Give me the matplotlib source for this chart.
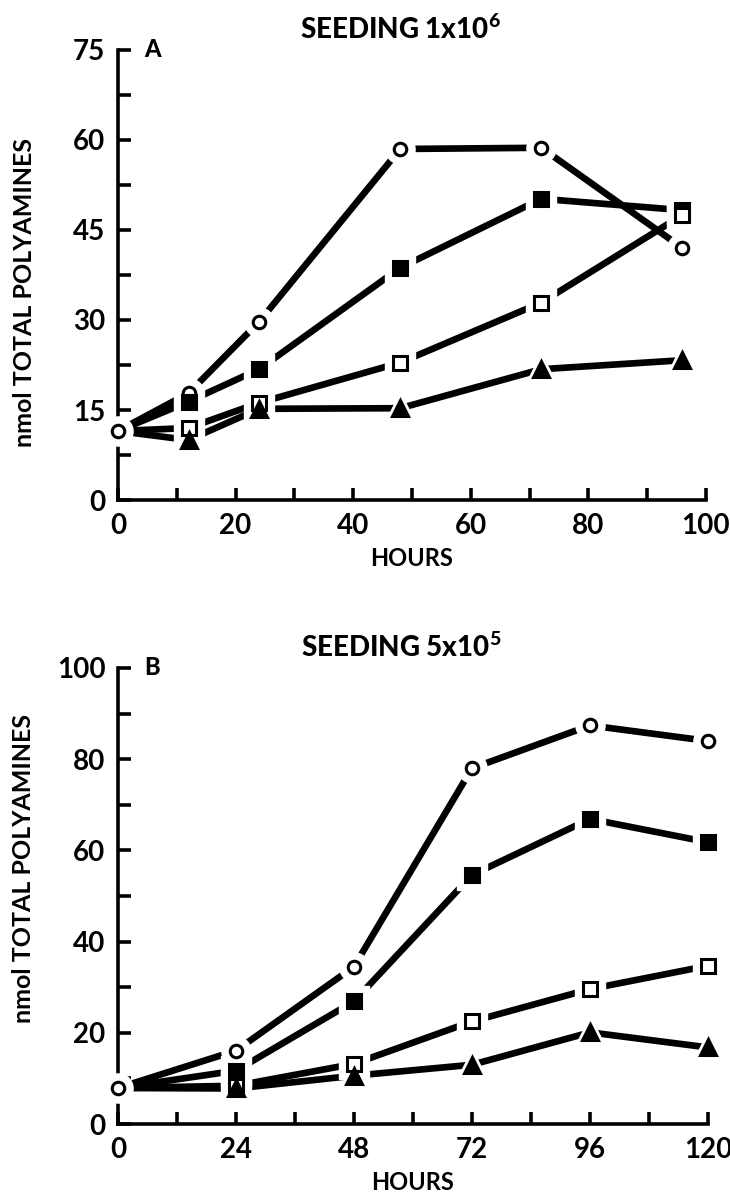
import numpy as np
import matplotlib
matplotlib.use("Agg")
import matplotlib.pyplot as plt

plt.rcParams['font.family'] = ['Lato', 'DejaVu Sans']
plt.rcParams['mathtext.fontset'] = 'custom'
plt.rcParams['mathtext.rm'] = 'Lato:black'
plt.rcParams['mathtext.bf'] = 'Lato:black'

# panel A, seeding 1x10^6
hours_a = [0, 12, 24, 48, 72, 96]
circle_a = [11.5, 17.8, 29.7, 58.5, 58.7, 42.0]
fsquare_a = [11.5, 16.4, 21.8, 38.7, 50.2, 48.3]
osquare_a = [11.5, 12.0, 16.2, 22.9, 32.9, 47.5]
triangle_a = [11.5, 10.0, 15.2, 15.3, 21.8, 23.3]

# panel B, seeding 5x10^5
hours_b = [0, 24, 48, 72, 96, 120]
circle_b = [7.9, 16.1, 34.5, 78.0, 87.4, 84.0]
fsquare_b = [7.9, 11.7, 26.9, 54.6, 66.9, 61.8]
osquare_b = [7.9, 8.4, 13.2, 22.5, 29.6, 34.7]
triangle_b = [7.9, 7.8, 10.6, 13.0, 20.1, 16.8]

# marker, size, filled
styles = [("o", 9, False), ("s", 10, True), ("s", 10, False), ("^", 11, True)]


def draw_panel(ax, hours, series):
    for ys in series:
        ax.plot(hours, ys, color="black", lw=4.8, solid_capstyle="round",
                zorder=2, clip_on=False)
    # the common starting point is only marked once (open circle)
    marks = [slice(0, None)] + [slice(1, None)] * 3
    # white halo so the lines stop short of each symbol
    for ys, (m, ms, filled), me in zip(series, styles, marks):
        ax.plot(hours, ys, ls="none", marker=m, ms=ms + 12, mfc="white",
                mec="white", markevery=me, zorder=3, clip_on=False)
    for ys, (m, ms, filled), me in zip(series, styles, marks):
        ax.plot(hours, ys, ls="none", marker=m, ms=ms, mew=2.2,
                mfc="black" if filled else "white", mec="black",
                markevery=me, zorder=4, clip_on=False)


def style_axes(ax, xmax, xmajor, xminor, ymax, ymajor, yminor):
    for s in ["top", "right"]:
        ax.spines[s].set_visible(False)
    for s in ["left", "bottom"]:
        ax.spines[s].set_linewidth(2.6)
    ax.set_xlim(0, xmax)
    ax.set_ylim(0, ymax)
    ax.set_xticks(np.arange(0, xmax + 0.1, xmajor))
    ax.set_xticks(np.arange(0, xmax + 0.1, xminor), minor=True)
    ax.set_yticks(np.arange(0, ymax + 0.1, ymajor))
    ax.set_yticks(np.arange(0, ymax + 0.1, yminor), minor=True)
    ax.tick_params(which="both", direction="in", length=9, width=2.6,
                   labelsize=20, pad=9)
    for lab in ax.get_xticklabels() + ax.get_yticklabels():
        lab.set_fontweight("bold")
    ax.set_xlabel("HOURS", fontsize=17, fontweight="bold", labelpad=6)
    ax.set_ylabel("nmol TOTAL POLYAMINES", fontsize=18, fontweight="bold")


fig = plt.figure(figsize=(7.30, 12.04), dpi=100)

ax1 = fig.add_axes([0.1616, 0.5847, 0.8055, 0.3738])
draw_panel(ax1, hours_a, [circle_a, fsquare_a, osquare_a, triangle_a])
style_axes(ax1, 100, 20, 10, 75, 15, 7.5)
ax1.yaxis.set_label_coords(-0.14, 0.46)
ax1.text(0.045, 1.0, "A", transform=ax1.transAxes, fontsize=17,
         fontweight="black", va="center", ha="left")
ax1.set_title(r"SEEDING 1x10$^{6}$", fontsize=20, fontweight="black", pad=8,
              x=0.48)

ax2 = fig.add_axes([0.1616, 0.0664, 0.8082, 0.3788])
draw_panel(ax2, hours_b, [circle_b, fsquare_b, osquare_b, triangle_b])
style_axes(ax2, 120, 24, 12, 100, 20, 10)
ax2.yaxis.set_label_coords(-0.14, 0.56)
ax2.text(0.045, 1.0, "B", transform=ax2.transAxes, fontsize=17,
         fontweight="black", va="center", ha="left")
ax2.set_title(r"SEEDING 5x10$^{5}$", fontsize=20, fontweight="black", pad=8,
              x=0.48)

fig.savefig("out.png", dpi=100)
